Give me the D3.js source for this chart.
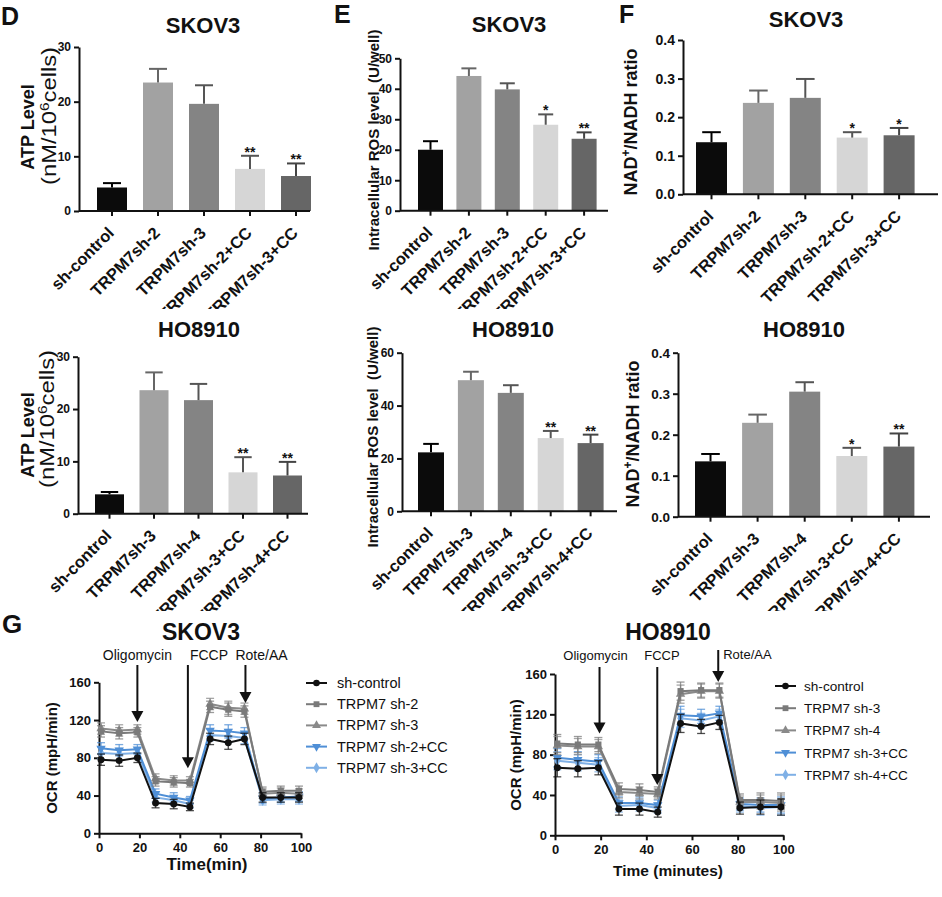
<!DOCTYPE html>
<html><head><meta charset="utf-8">
<script src="https://cdn.jsdelivr.net/npm/d3@7"></script>
<style>
body{margin:0;background:#fff}
text{font-family:"Liberation Sans",Arial,Helvetica,sans-serif;fill:#111}
</style>
</head><body>
<svg id="fig" width="942" height="897" xmlns="http://www.w3.org/2000/svg"></svg>
<script>
// ---------- DATA ----------
const catsSKOV3 = ["sh-control","TRPM7sh-2","TRPM7sh-3","TRPM7sh-2+CC","TRPM7sh-3+CC"];
const catsHO8910 = ["sh-control","TRPM7sh-3","TRPM7sh-4","TRPM7sh-3+CC","TRPM7sh-4+CC"];

const atpSKOV3 = [4.3, 23.5, 19.6, 7.7, 6.4];
const atpSKOV3Err = [0.8, 2.5, 3.4, 2.4, 2.3];
const atpSKOV3Sig = ["", "", "", "**", "**"];
const atpHO8910 = [3.7, 23.6, 21.7, 7.9, 7.3];
const atpHO8910Err = [0.45, 3.4, 3.1, 2.9, 2.6];
const atpHO8910Sig = ["", "", "", "**", "**"];

const rosSKOV3 = [20.0, 44.2, 39.8, 28.2, 23.6];
const rosSKOV3Err = [2.8, 2.5, 2.0, 3.4, 2.1];
const rosSKOV3Sig = ["", "", "", "*", "**"];
const rosHO8910 = [22.3, 49.6, 44.8, 27.7, 25.8];
const rosHO8910Err = [3.2, 3.2, 2.9, 2.7, 3.2];
const rosHO8910Sig = ["", "", "", "**", "**"];

const nadSKOV3 = [0.135, 0.237, 0.250, 0.147, 0.153];
const nadSKOV3Err = [0.026, 0.032, 0.049, 0.014, 0.019];
const nadSKOV3Sig = ["", "", "", "*", "*"];
const nadHO8910 = [0.135, 0.229, 0.305, 0.148, 0.171];
const nadHO8910Err = [0.018, 0.020, 0.023, 0.020, 0.032];
const nadHO8910Sig = ["", "", "", "*", "**"];

const atpTicks = [0, 10, 20, 30];
const rosSKOV3Ticks = [0, 10, 20, 30, 40, 50];
const rosHO8910Ticks = [0, 20, 40, 60];
const nadTicks = [0.0, 0.1, 0.2, 0.3, 0.4];

const ocrTimes = [1, 10, 19, 28, 37, 45, 55, 64, 72, 81, 90, 99];
const ocrTicks = [0, 40, 80, 120, 160];
const timeTicks = [0, 20, 40, 60, 80, 100];
const eventNames = ["Oligomycin", "FCCP", "Rote/AA"];

const ocrSKOV3Names = ["sh-control", "TRPM7 sh-2", "TRPM7 sh-3", "TRPM7 sh-2+CC", "TRPM7 sh-3+CC"];
const ocrSKOV3Ctrl = [78, 77, 80, 32, 31, 28, 100, 96, 100, 38, 38, 38];
const ocrSKOV3Sh2 = [108, 106, 107, 55, 54, 53, 134, 131, 129, 44, 45, 45];
const ocrSKOV3Sh3 = [111, 109, 110, 58, 56, 56, 137, 133, 132, 42, 43, 42];
const ocrSKOV3Sh2CC = [90, 88, 89, 42, 38, 35, 109, 108, 106, 37, 38, 39];
const ocrSKOV3Sh3CC = [85, 84, 85, 38, 35, 31, 104, 103, 101, 35, 36, 36];
const ocrSKOV3Err = [6, 6, 5, 5, 5, 4, 6, 7, 6, 5, 5, 5];
const eventTimesSKOV3 = [19, 44, 72.5];
const eventTipsSKOV3 = [118, 69, 138];

const ocrHO8910Names = ["sh-control", "TRPM7 sh-3", "TRPM7 sh-4", "TRPM7 sh-3+CC", "TRPM7 sh-4+CC"];
const ocrHO8910Ctrl = [67, 66, 67, 26, 26, 23, 111, 108, 112, 27, 28, 28];
const ocrHO8910Sh3 = [91, 90, 90, 46, 45, 43, 143, 144, 144, 35, 35, 34];
const ocrHO8910Sh4 = [89, 88, 88, 43, 42, 41, 140, 143, 143, 33, 33, 32];
const ocrHO8910Sh3CC = [77, 75, 73, 32, 32, 30, 119, 118, 121, 31, 30, 30];
const ocrHO8910Sh4CC = [74, 72, 70, 29, 30, 27, 116, 114, 118, 29, 27, 28];
const ocrHO8910Err = [9, 8, 7, 6, 6, 5, 9, 7, 7, 6, 7, 8];
const eventTimesHO8910 = [19.5, 44.8, 71.5];
const eventTipsHO8910 = [101, 50, 152];

// ---------- STYLE ----------
const barColors = ["#0b0b0b", "#a2a2a2", "#848484", "#d6d6d6", "#666666"];
const barErrColors = ["#000", "#666", "#555", "#555", "#444"];
const seriesColors = ["#111111", "#7a7a7a", "#8a8a8a", "#4f8fd6", "#7fb0e6"];
const seriesSymbols = [d3.symbolCircle, d3.symbolSquare, d3.symbolTriangle, d3.symbolTriangle, d3.symbolDiamond];
const seriesRot = [0, 0, 0, 180, 0];

const svg = d3.select("#fig");
const defs = svg.append("defs");
[["clipTop", 0, 309], ["clipBottom", 300, 611]].forEach(([id, y0, y1]) => {
  defs.append("clipPath").attr("id", id).append("rect")
    .attr("x", 0).attr("y", y0).attr("width", 942).attr("height", y1 - y0);
});

function styleAxis(sel, fs) {
  sel.select(".domain").attr("stroke", "#111").attr("stroke-width", 2);
  sel.selectAll(".tick line").attr("stroke", "#111").attr("stroke-width", 2);
  sel.selectAll(".tick text").attr("font-size", fs).attr("font-weight", "bold")
     .style("font-family", '"Liberation Sans",Arial,sans-serif').attr("fill", "#111");
}

function barPanel(o) {
  const g = svg.append("g").attr("clip-path", `url(#${o.clip})`);
  const n = o.cats.length;
  const pad = 1 - o.bw / o.step;
  const x = d3.scaleBand().domain(o.cats)
    .range([o.c0 - o.step / 2, o.c0 - o.step / 2 + o.step * n])
    .paddingInner(pad).paddingOuter(pad / 2);
  const y = d3.scaleLinear().domain([0, o.ymax]).range([o.y0, o.y1]);

  // bars
  g.selectAll("rect.bar").data(o.vals).join("rect").attr("class", "bar")
    .attr("x", (d, i) => x(o.cats[i])).attr("width", x.bandwidth())
    .attr("y", d => y(d)).attr("height", d => y(0) - y(d))
    .attr("fill", (d, i) => barColors[i]);

  // error bars (upper only)
  const cap = x.bandwidth() * 0.6;
  o.vals.forEach((v, i) => {
    const cx = x(o.cats[i]) + x.bandwidth() / 2;
    const yt = y(v + o.errs[i]);
    g.append("line").attr("x1", cx).attr("x2", cx).attr("y1", y(v)).attr("y2", yt)
      .attr("stroke", barErrColors[i]).attr("stroke-width", 2);
    g.append("line").attr("x1", cx - cap / 2).attr("x2", cx + cap / 2).attr("y1", yt).attr("y2", yt)
      .attr("stroke", barErrColors[i]).attr("stroke-width", 2);
    if (o.sig[i]) {
      g.append("text").attr("x", cx).attr("y", yt + 1).attr("text-anchor", "middle")
        .attr("font-size", 14).attr("font-weight", "bold").attr("fill", "#222").text(o.sig[i]);
    }
  });

  // y axis
  const ya = g.append("g").attr("transform", `translate(${o.ax},0)`)
    .call(d3.axisLeft(y).tickValues(o.ticks).tickSize(5).tickSizeOuter(0).tickPadding(3).tickFormat(o.fmt));
  styleAxis(ya, o.tickFs);

  // x axis
  const xa = g.append("g").attr("transform", `translate(0,${y(0)})`)
    .call(d3.axisBottom(x).tickSize(5).tickSizeOuter(0));
  xa.select(".domain").remove();
  styleAxis(xa, 16.5);
  xa.selectAll(".tick text").attr("x", null).attr("y", null).attr("dy", null)
    .attr("text-anchor", "end").attr("transform", "translate(3,23) rotate(-45)");
  g.append("line").attr("x1", o.ax).attr("x2", o.axEnd).attr("y1", y(0)).attr("y2", y(0))
    .attr("stroke", "#111").attr("stroke-width", 2);

  // title
  g.append("text").attr("x", o.title[1]).attr("y", o.title[2]).attr("text-anchor", "middle")
    .attr("font-size", 22).attr("font-weight", "bold").text(o.title[0]);
  if (o.letter) {
    g.append("text").attr("x", o.letter[1]).attr("y", o.letter[2])
      .attr("font-size", 25).attr("font-weight", "bold").text(o.letter[0]);
  }
  o.ylab(g);
}

function rotText(g, x, y, fs, weight) {
  return g.append("text").attr("transform", `translate(${x},${y}) rotate(-90)`)
    .attr("text-anchor", "middle").attr("font-size", fs).attr("font-weight", weight);
}
function atpLabel(cx1, cy1, cx2, cy2) {
  return g => {
    rotText(g, cx1, cy1, 18, "bold").text("ATP Level");
    const t = rotText(g, cx2, cy2, 20, "normal").attr("textLength", 138).attr("lengthAdjust", "spacingAndGlyphs");
    t.append("tspan").text("(nM/10");
    t.append("tspan").attr("baseline-shift", "super").attr("font-size", 13).text("6");
    t.append("tspan").text("cells)");
  };
}
function rosLabel(cx, cy) {
  return g => rotText(g, cx, cy, 15, "bold").text("Intracellular ROS level \u00a0(U/well)");
}
function nadLabel(cx, cy) {
  return g => {
    const t = rotText(g, cx, cy, 18, "bold");
    t.append("tspan").text("NAD");
    t.append("tspan").attr("baseline-shift", "super").attr("font-size", 12).text("+");
    t.append("tspan").text("/NADH ratio");
  };
}

const fmtInt = d3.format("d"), fmt1 = d3.format(".1f");

barPanel({cats: catsSKOV3, vals: atpSKOV3, errs: atpSKOV3Err, sig: atpSKOV3Sig, ticks: atpTicks, fmt: fmtInt, clip: "clipTop",
  ymax: 30, ax: 79, y0: 211, y1: 47, c0: 112, step: 46, bw: 30, axEnd: 310, tickFs: 12,
  title: ["SKOV3", 203, 33], letter: ["D", 1, 25], ylab: atpLabel(34, 127, 56, 116)});
barPanel({cats: catsHO8910, vals: atpHO8910, errs: atpHO8910Err, sig: atpHO8910Sig, ticks: atpTicks, fmt: fmtInt, clip: "clipBottom",
  ymax: 30, ax: 78, y0: 513.7, y1: 356.7, c0: 109.5, step: 44.5, bw: 29, axEnd: 308, tickFs: 12,
  title: ["HO8910", 199, 337], ylab: atpLabel(34, 435, 54, 419)});
barPanel({cats: catsSKOV3, vals: rosSKOV3, errs: rosSKOV3Err, sig: rosSKOV3Sig, ticks: rosSKOV3Ticks, fmt: fmtInt, clip: "clipTop",
  ymax: 50, ax: 400, y0: 210.7, y1: 58.3, c0: 430.5, step: 38.4, bw: 25, axEnd: 608, tickFs: 12,
  title: ["SKOV3", 509, 32], letter: ["E", 334, 23], ylab: rosLabel(379, 140)});
barPanel({cats: catsHO8910, vals: rosHO8910, errs: rosHO8910Err, sig: rosHO8910Sig, ticks: rosHO8910Ticks, fmt: fmtInt, clip: "clipBottom",
  ymax: 60, ax: 402, y0: 511.3, y1: 352.7, c0: 431, step: 39.9, bw: 26, axEnd: 617, tickFs: 12,
  title: ["HO8910", 513, 337], ylab: rosLabel(378, 437)});
barPanel({cats: catsSKOV3, vals: nadSKOV3, errs: nadSKOV3Err, sig: nadSKOV3Sig, ticks: nadTicks, fmt: fmt1, clip: "clipTop",
  ymax: 0.4, ax: 683, y0: 194.3, y1: 40, c0: 711.5, step: 46.9, bw: 31, axEnd: 938, tickFs: 14,
  title: ["SKOV3", 806, 27], letter: ["F", 619, 23], ylab: nadLabel(637, 122)});
barPanel({cats: catsHO8910, vals: nadHO8910, errs: nadHO8910Err, sig: nadHO8910Sig, ticks: nadTicks, fmt: fmt1, clip: "clipBottom",
  ymax: 0.4, ax: 678, y0: 516.7, y1: 352.7, c0: 710.5, step: 47.1, bw: 31, axEnd: 930, tickFs: 13.5,
  title: ["HO8910", 804, 337], ylab: nadLabel(639, 434)});

// ---------- OCR line panels ----------
function linePanel(o) {
  const g = svg.append("g");
  const x = d3.scaleLinear().domain([0, 100]).range([o.x0, o.x1]);
  const y = d3.scaleLinear().domain([0, 160]).range([o.y0, o.y1]);

  const ya = g.append("g").attr("transform", `translate(${o.x0},0)`)
    .call(d3.axisLeft(y).tickValues(ocrTicks).tickSize(5).tickSizeOuter(0).tickPadding(3));
  styleAxis(ya, 13);
  const xa = g.append("g").attr("transform", `translate(0,${o.y0})`)
    .call(d3.axisBottom(x).tickValues(timeTicks).tickSize(5).tickSizeOuter(0).tickPadding(4));
  styleAxis(xa, 13);

  const line = d3.line().x((d, i) => x(ocrTimes[i])).y(d => y(d));
  const order = [4, 3, 2, 1, 0];
  order.forEach(k => {
    const vals = o.series[k], col = seriesColors[k];
    g.append("path").attr("d", line(vals)).attr("fill", "none").attr("stroke", col).attr("stroke-width", 2);
    vals.forEach((v, i) => {
      const cx = x(ocrTimes[i]), e = o.err[i];
      g.append("line").attr("x1", cx).attr("x2", cx).attr("y1", y(v - e)).attr("y2", y(v + e))
        .attr("stroke", col).attr("stroke-width", 1.3).attr("opacity", 0.75);
      [v - e, v + e].forEach(w => g.append("line").attr("x1", cx - 4).attr("x2", cx + 4)
        .attr("y1", y(w)).attr("y2", y(w)).attr("stroke", col).attr("stroke-width", 1.3).attr("opacity", 0.75));
      g.append("path").attr("d", d3.symbol().type(seriesSymbols[k]).size(38)())
        .attr("transform", `translate(${cx},${y(v)}) rotate(${seriesRot[k]})`).attr("fill", col);
    });
  });

  // legend
  o.names.forEach((nm, k) => {
    const ly = o.leg[1] + k * o.leg[3];
    g.append("line").attr("x1", o.leg[0]).attr("x2", o.leg[0] + 21).attr("y1", ly).attr("y2", ly)
      .attr("stroke", seriesColors[k]).attr("stroke-width", 2);
    g.append("path").attr("d", d3.symbol().type(seriesSymbols[k]).size(34)())
      .attr("transform", `translate(${o.leg[0] + 10.5},${ly}) rotate(${seriesRot[k]})`).attr("fill", seriesColors[k]);
    g.append("text").attr("x", o.leg[2]).attr("y", ly + 5).attr("font-size", o.legFs).attr("fill", "#333").text(nm);
  });

  // event arrows
  eventNames.forEach((nm, k) => {
    const ax = x(o.evT[k]), tip = y(o.evTip[k]);
    g.append("line").attr("x1", ax).attr("x2", ax).attr("y1", o.evTop[k]).attr("y2", tip - 9)
      .attr("stroke", "#111").attr("stroke-width", 2);
    g.append("path").attr("d", `M${ax - 6},${tip - 11}L${ax + 6},${tip - 11}L${ax},${tip}Z`).attr("fill", "#111");
    g.append("text").attr("x", ax + o.evDx[k]).attr("y", o.evTextY[k]).attr("text-anchor", o.evAnchor[k])
      .attr("font-size", o.evFs).attr("fill", "#222").text(nm);
  });

  g.append("text").attr("x", o.title[1]).attr("y", o.title[2]).attr("text-anchor", "middle")
    .attr("font-size", 23).attr("font-weight", "bold").text(o.title[0]);
  g.append("text").attr("transform", `translate(${o.ylab[0]},${o.ylab[1]}) rotate(-90)`).attr("text-anchor", "middle")
    .attr("font-size", 15).attr("font-weight", "bold").text("OCR (mpH/min)");
  g.append("text").attr("x", o.xlab[1]).attr("y", o.xlab[2]).attr("text-anchor", "middle")
    .attr("font-size", o.xlab[3]).attr("font-weight", "bold").text(o.xlab[0]);
  if (o.letter) g.append("text").attr("x", o.letter[1]).attr("y", o.letter[2])
    .attr("font-size", 26).attr("font-weight", "bold").text(o.letter[0]);
}

linePanel({x0: 99, x1: 301, y0: 833.3, y1: 682.3,
  series: [ocrSKOV3Ctrl, ocrSKOV3Sh2, ocrSKOV3Sh3, ocrSKOV3Sh2CC, ocrSKOV3Sh3CC], err: ocrSKOV3Err,
  names: ocrSKOV3Names, leg: [306, 683, 337, 21.2], legFs: 14.5,
  evT: eventTimesSKOV3, evTip: eventTipsSKOV3, evTop: [665, 665, 665], evDx: [0, 2, -10],
  evAnchor: ["middle", "start", "start"], evTextY: [660, 660, 660], evFs: 14,
  title: ["SKOV3", 201, 640], ylab: [57, 758], xlab: ["Time(min)", 207, 870, 17], letter: ["G", 2, 633]});
linePanel({x0: 555, x1: 783.3, y0: 835.3, y1: 674,
  series: [ocrHO8910Ctrl, ocrHO8910Sh3, ocrHO8910Sh4, ocrHO8910Sh3CC, ocrHO8910Sh4CC], err: ocrHO8910Err,
  names: ocrHO8910Names, leg: [775, 686, 804, 22.2], legFs: 13.6,
  evT: eventTimesHO8910, evTip: eventTipsHO8910, evTop: [667, 667, 650], evDx: [-4, -13, 5],
  evAnchor: ["middle", "start", "start"], evTextY: [660, 660, 659], evFs: 13,
  title: ["HO8910", 668, 640], ylab: [521, 755], xlab: ["Time (minutes)", 668, 876, 15.5]});
</script>
</body></html>
